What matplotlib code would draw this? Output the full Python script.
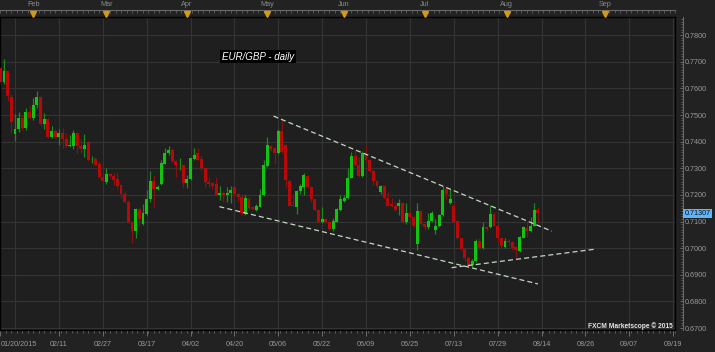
import numpy as np
import matplotlib.pyplot as plt
import matplotlib.transforms as mtrans

# EUR/GBP daily candles, 2015-01-20 .. 2015-08-13 (weekday bars)
opens = [0.7677, 0.7623, 0.7664, 0.7569, 0.7427, 0.7447, 0.7490, 0.7452, 0.7513, 0.7490,
         0.7536, 0.7567, 0.7466, 0.7486, 0.7416, 0.7441, 0.7419, 0.7433, 0.7411, 0.7382,
         0.7384, 0.7433, 0.7384, 0.7374, 0.7400, 0.7334, 0.7336, 0.7316, 0.7269, 0.7247,
         0.7279, 0.7272, 0.7258, 0.7236, 0.7203, 0.7173, 0.7100, 0.7065, 0.7148, 0.7091,
         0.7128, 0.7184, 0.7253, 0.7224, 0.7240, 0.7318, 0.7356, 0.7370, 0.7329, 0.7311,
         0.7312, 0.7244, 0.7260, 0.7335, 0.7356, 0.7334, 0.7302, 0.7250, 0.7246, 0.7240,
         0.7200, 0.7206, 0.7198, 0.7206, 0.7231, 0.7204, 0.7192, 0.7130, 0.7184, 0.7154,
         0.7145, 0.7156, 0.7200, 0.7309, 0.7384, 0.7375, 0.7359, 0.7441, 0.7388, 0.7252,
         0.7163, 0.7156, 0.7213, 0.7231, 0.7271, 0.7231, 0.7184, 0.7144, 0.7098, 0.7110,
         0.7100, 0.7071, 0.7100, 0.7144, 0.7178, 0.7188, 0.7265, 0.7348, 0.7313, 0.7271,
         0.7356, 0.7331, 0.7290, 0.7253, 0.7210, 0.7233, 0.7190, 0.7165, 0.7159, 0.7160,
         0.7169, 0.7099, 0.7133, 0.7118, 0.7015, 0.7141, 0.7091, 0.7078, 0.7103, 0.7068,
         0.7083, 0.7124, 0.7222, 0.7169, 0.7157, 0.7101, 0.7038, 0.6996, 0.6965, 0.6937,
         0.6952, 0.7028, 0.7000, 0.7078, 0.7078, 0.7129, 0.7085, 0.7038, 0.7005, 0.7028,
         0.7025, 0.7005, 0.6990, 0.7040, 0.7075, 0.7066, 0.7085, 0.7142]
highs = [0.7690, 0.7711, 0.7667, 0.7579, 0.7504, 0.7511, 0.7499, 0.7525, 0.7535, 0.7563,
         0.7592, 0.7570, 0.7509, 0.7488, 0.7458, 0.7448, 0.7448, 0.7451, 0.7432, 0.7426,
         0.7443, 0.7435, 0.7411, 0.7428, 0.7403, 0.7346, 0.7344, 0.7328, 0.7286, 0.7302,
         0.7281, 0.7281, 0.7285, 0.7237, 0.7213, 0.7180, 0.7104, 0.7150, 0.7150, 0.7165,
         0.7219, 0.7290, 0.7274, 0.7238, 0.7331, 0.7375, 0.7384, 0.7376, 0.7332, 0.7337,
         0.7314, 0.7275, 0.7340, 0.7375, 0.7375, 0.7350, 0.7306, 0.7269, 0.7250, 0.7269,
         0.7235, 0.7213, 0.7231, 0.7234, 0.7233, 0.7206, 0.7200, 0.7201, 0.7192, 0.7160,
         0.7166, 0.7223, 0.7330, 0.7416, 0.7388, 0.7381, 0.7446, 0.7481, 0.7390, 0.7256,
         0.7200, 0.7219, 0.7240, 0.7281, 0.7275, 0.7233, 0.7186, 0.7146, 0.7156, 0.7113,
         0.7103, 0.7115, 0.7150, 0.7200, 0.7200, 0.7300, 0.7363, 0.7369, 0.7344, 0.7365,
         0.7388, 0.7333, 0.7293, 0.7256, 0.7238, 0.7238, 0.7210, 0.7188, 0.7175, 0.7185,
         0.7172, 0.7169, 0.7141, 0.7120, 0.7169, 0.7143, 0.7093, 0.7131, 0.7138, 0.7110,
         0.7130, 0.7232, 0.7230, 0.7224, 0.7167, 0.7103, 0.7040, 0.6998, 0.6967, 0.6958,
         0.7034, 0.7038, 0.7100, 0.7084, 0.7161, 0.7135, 0.7087, 0.7040, 0.7038, 0.7034,
         0.7028, 0.7010, 0.7047, 0.7084, 0.7100, 0.7116, 0.7170, 0.7154]
lows = [0.7614, 0.7617, 0.7554, 0.7432, 0.7404, 0.7437, 0.7445, 0.7442, 0.7485, 0.7482,
        0.7526, 0.7460, 0.7448, 0.7413, 0.7413, 0.7414, 0.7386, 0.7376, 0.7381, 0.7379,
        0.7373, 0.7352, 0.7359, 0.7341, 0.7329, 0.7319, 0.7311, 0.7262, 0.7249, 0.7241,
        0.7266, 0.7237, 0.7221, 0.7187, 0.7170, 0.7095, 0.7020, 0.7040, 0.7085, 0.7088,
        0.7125, 0.7175, 0.7156, 0.7220, 0.7237, 0.7315, 0.7350, 0.7325, 0.7269, 0.7294,
        0.7225, 0.7225, 0.7257, 0.7331, 0.7330, 0.7294, 0.7231, 0.7231, 0.7222, 0.7200,
        0.7181, 0.7175, 0.7175, 0.7171, 0.7194, 0.7175, 0.7125, 0.7125, 0.7148, 0.7144,
        0.7138, 0.7153, 0.7197, 0.7305, 0.7366, 0.7315, 0.7355, 0.7356, 0.7231, 0.7160,
        0.7157, 0.7128, 0.7205, 0.7200, 0.7225, 0.7175, 0.7138, 0.7094, 0.7094, 0.7098,
        0.7069, 0.7063, 0.7098, 0.7140, 0.7175, 0.7185, 0.7262, 0.7310, 0.7268, 0.7269,
        0.7328, 0.7288, 0.7238, 0.7225, 0.7203, 0.7185, 0.7158, 0.7155, 0.7138, 0.7125,
        0.7093, 0.7090, 0.7115, 0.7080, 0.6992, 0.7087, 0.7068, 0.7074, 0.7100, 0.7055,
        0.7080, 0.7120, 0.7180, 0.7165, 0.7097, 0.7034, 0.6992, 0.6952, 0.6929, 0.6929,
        0.6949, 0.6996, 0.6997, 0.7066, 0.7075, 0.7082, 0.7022, 0.7000, 0.7000, 0.7009,
        0.6995, 0.6963, 0.6987, 0.7037, 0.7043, 0.7060, 0.7082, 0.7100]
closes = [0.7623, 0.7664, 0.7570, 0.7472, 0.7448, 0.7490, 0.7452, 0.7513, 0.7490, 0.7539,
          0.7567, 0.7467, 0.7486, 0.7416, 0.7441, 0.7419, 0.7433, 0.7409, 0.7382, 0.7389,
          0.7433, 0.7382, 0.7374, 0.7388, 0.7331, 0.7336, 0.7314, 0.7269, 0.7251, 0.7279,
          0.7271, 0.7257, 0.7235, 0.7203, 0.7173, 0.7100, 0.7065, 0.7148, 0.7110, 0.7131,
          0.7185, 0.7253, 0.7221, 0.7231, 0.7320, 0.7356, 0.7370, 0.7328, 0.7312, 0.7313,
          0.7244, 0.7260, 0.7337, 0.7350, 0.7331, 0.7300, 0.7249, 0.7241, 0.7235, 0.7201,
          0.7207, 0.7200, 0.7207, 0.7218, 0.7204, 0.7194, 0.7133, 0.7187, 0.7152, 0.7147,
          0.7158, 0.7201, 0.7311, 0.7388, 0.7371, 0.7359, 0.7441, 0.7362, 0.7256, 0.7160,
          0.7159, 0.7213, 0.7234, 0.7275, 0.7231, 0.7184, 0.7144, 0.7098, 0.7109, 0.7100,
          0.7071, 0.7103, 0.7146, 0.7184, 0.7190, 0.7265, 0.7348, 0.7313, 0.7271, 0.7356,
          0.7331, 0.7290, 0.7253, 0.7233, 0.7233, 0.7190, 0.7160, 0.7159, 0.7143, 0.7169,
          0.7099, 0.7133, 0.7118, 0.7083, 0.7141, 0.7091, 0.7078, 0.7103, 0.7131, 0.7083,
          0.7125, 0.7218, 0.7205, 0.7184, 0.7100, 0.7038, 0.6996, 0.6965, 0.6937, 0.6952,
          0.7028, 0.7000, 0.7078, 0.7072, 0.7129, 0.7085, 0.7038, 0.7009, 0.7028, 0.7022,
          0.7000, 0.6992, 0.7043, 0.7078, 0.7063, 0.7085, 0.7142, 0.7131]

last_price = 0.71307

# trend lines (bar index, price)
upper_x = [74.7, 150.8]
upper_y = [0.7496, 0.7064]
lower_x = [59.9, 147.0]
lower_y = [0.7156, 0.6866]
support_x = [123.4, 162.4]
support_y = [0.6927, 0.6996]

date_pos = [0, 16, 28, 40, 52, 64, 76, 88, 100, 112, 124, 136, 148, 160, 172, 184]
date_labels = ['01/20/2015', '02/11', '02/27', '03/17', '04/02', '04/20', '05/06', '05/22',
               '06/09', '06/25', '07/13', '07/29', '08/14', '08/26', '09/07', '09/19']
month_pos = [9, 29, 51, 73, 94, 116, 138.5, 165.4]
month_labels = ['Feb', 'Mar', 'Apr', 'May', 'Jun', 'Jul', 'Aug', 'Sep']

plt.rcParams['font.family'] = ['Liberation Sans', 'DejaVu Sans']
bg = '#1f1f1f'
txt = '#9a9a9a'

fig = plt.figure(figsize=(7.15, 3.52), dpi=100, facecolor='#222222')
ax = fig.add_axes([0, 22/352, 675/715, 313/352], facecolor=bg)

o = np.array(opens); h = np.array(highs); l = np.array(lows); c = np.array(closes)
x = np.arange(len(o))
up = c >= o

# grid
for gx in np.arange(4, 190, 12):
    ax.axvline(gx, color='#343434', lw=0.8, zorder=1)
for gy in np.arange(0.67, 0.7851, 0.01):
    ax.axhline(gy, color='#343434', lw=0.8, zorder=1)

# candles
ax.vlines(x, l, h, colors=np.where(up, '#1a8a1a', '#8a1010'), lw=0.9, zorder=2)
ax.bar(x, np.maximum(np.abs(c - o), 0.00008), bottom=np.minimum(o, c), width=0.8,
       color=np.where(up, '#10c410', '#b80808'), linewidth=0, zorder=3)

# trend lines
for tx, ty in [(upper_x, upper_y), (lower_x, lower_y), (support_x, support_y)]:
    ax.plot(tx, ty, color='#c4d8c4', lw=0.9, dashes=(4, 2.5), zorder=4)

ax.set_xlim(-0.1, 184.1)
ax.set_ylim(0.6693, 0.7868)

for s in ax.spines.values():
    s.set_color('black')
    s.set_linewidth(1.0)

# bottom date axis
ax.set_xticks(date_pos)
ax.set_xticklabels(date_labels)
ax.set_xticks(np.arange(0, 185, 1.5), minor=True)
ax.tick_params(axis='x', which='major', direction='out', length=4.5, width=0.6,
               color='#777777', labelcolor=txt, labelsize=5.2, pad=3.5)
ax.tick_params(axis='x', which='minor', direction='out', length=2, width=0.5,
               color='#777777')
ax.get_xticklabels()[0].set_ha('left')
ax.tick_params(axis='y', left=False, labelleft=False)

# right price axis
ay = ax.secondary_yaxis(1 + 8/675)
ay.set_yticks(np.arange(0.67, 0.7851, 0.01))
ay.set_yticklabels(['%.4f' % v for v in np.arange(0.67, 0.7851, 0.01)])
ay.set_yticks(np.arange(0.669, 0.787, 0.001), minor=True)
ay.tick_params(which='major', direction='in', length=2.2, width=0.6, color='#777777',
               labelcolor=txt, labelsize=5.2, pad=1.5)
ay.tick_params(which='minor', direction='in', length=1.2, width=0.5, color='#777777')
ay.spines['right'].set_color('#6a6a6a')
ay.spines['right'].set_linewidth(0.8)

# top month axis
axt = ax.secondary_xaxis(1 + 7/313)
axt.set_xticks(month_pos)
axt.set_xticklabels(month_labels)
axt.set_xticks(np.arange(0, 185, 1.5), minor=True)
axt.tick_params(which='major', direction='in', length=0, labelcolor='#8a8a8a',
                labelsize=5.2, pad=1.2)
axt.tick_params(which='minor', direction='in', length=2, width=0.5, color='#6a6a6a')
axt.spines['top'].set_color('#6a6a6a')
axt.spines['top'].set_linewidth(0.8)
ax.plot(month_pos, [1 + 3.5/313] * len(month_pos), 'v', color='#d49a10', ms=4.2,
        transform=ax.get_xaxis_transform(), clip_on=False, zorder=6)

# title box
fig.text(222/715, 1 - 56.5/352, 'EUR/GBP - daily', color='white', fontsize=7,
         style='italic', va='center', ha='left',
         bbox=dict(facecolor='black', edgecolor='none', pad=1.2))

# last price tag
tr = mtrans.blended_transform_factory(ax.transAxes, ax.transData)
ax.text(1 + 9.5/675, last_price, '%.5f' % last_price, transform=tr, fontsize=5.2,
        color='#101010', va='center', ha='left', clip_on=False,
        bbox=dict(facecolor='#5fb4ff', edgecolor='none', pad=0.8))

# watermark
ax.text(1 - 2/675, 4/313, 'FXCM Marketscope \u00a9 2015', transform=ax.transAxes,
        fontsize=4.8, fontweight='bold', color='#e6e6e6', ha='right', va='center')

fig.savefig('out.png', dpi=100, facecolor=fig.get_facecolor())
